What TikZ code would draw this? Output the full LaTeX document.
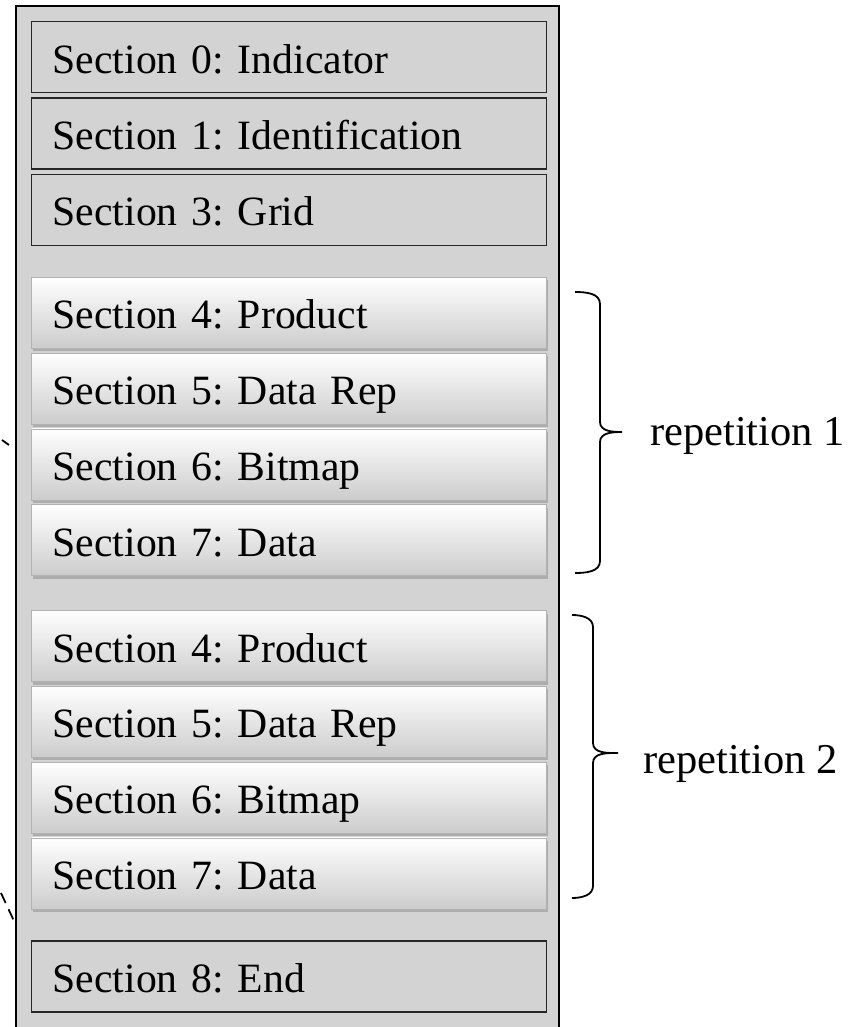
\documentclass[tikz,border=0pt]{standalone}
\usepackage{fontspec}
\setmainfont{Liberation Serif}
\frenchspacing
\usetikzlibrary{positioning, shadows}
\definecolor{panelgray}{RGB}{211,211,211}
\tikzset{basic/.style={anchor=north west,minimum height=71pt,text width=473pt,inner xsep=21pt,inner ysep=0pt,align=left,text height=32pt,text depth=0pt,font=\fontsize{41.7}{50}\selectfont}}
\tikzset{flat/.style={basic,draw=black!85,line width=1.3pt,fill=panelgray}}
\tikzset{raised/.style={basic,draw=black!30,line width=0.8pt,top color=white,bottom color=black!20,drop shadow={shadow xshift=1pt,shadow yshift=-3pt,opacity=0.45}}}
\tikzset{bracket/.style={draw,line width=1.8pt}}
\tikzset{replabel/.style={anchor=base west,inner sep=0pt,font=\fontsize{42.5}{50}\selectfont}}

\begin{document}
\begin{tikzpicture}[x=1pt,y=1pt]
\useasboundingbox (0,0) rectangle (856,-1027);

% Define message panel
\fill[panelgray] (16,-6) rectangle (559,-1027);
\draw[line width=2.5pt] (16,-1027) -- (16,-6) -- (559,-6) -- (559,-1027);

% Define fixed sections
\node[flat] at (31,-21) (s0) {Section 0: Indicator};
\node[flat,below=4pt of s0] (s1) {Section 1: Identification};
\node[flat,below=4pt of s1] (s3) {Section 3: Grid};

% Define first repetition
\node[raised,below=31pt of s3] (s4a) {Section 4: Product};
\node[raised,below=4pt of s4a] (s5a) {Section 5: Data Rep};
\node[raised,below=4pt of s5a] (s6a) {Section 6: Bitmap};
\node[raised,below=4pt of s6a] (s7a) {Section 7: Data};

% Define second repetition
\node[raised,below=34pt of s7a] (s4b) {Section 4: Product};
\node[raised,below=4pt of s4b] (s5b) {Section 5: Data Rep};
\node[raised,below=4pt of s5b] (s6b) {Section 6: Bitmap};
\node[raised,below=4pt of s6b] (s7b) {Section 7: Data};

% End section
\node[flat,below=31pt of s7b] (s8) {Section 8: End};

% Define braces
\draw[bracket] (575,-292) to[out=0,in=90] (600,-304) -- (600,-422)
  to[out=-90,in=180] (622,-432) to[out=180,in=90] (600,-442) -- (600,-561)
  to[out=-90,in=0] (575,-573);
\draw[bracket] (572,-615) to[out=0,in=90] (593,-627) -- (593,-743)
  to[out=-90,in=180] (618,-753) to[out=180,in=90] (593,-763) -- (593,-886)
  to[out=-90,in=0] (572,-898);

% Add some text
\node[replabel] at (650,-445) (rep1) {repetition 1};
\node[replabel] at (643,-773) (rep2) {repetition 2};

% Cut-off dashes on the left
\draw[line width=1.8pt] (2,-440) -- (9,-445);
\draw[line width=1.8pt,dash pattern=on 11pt off 7pt] (1,-893) -- (14,-921);
\end{tikzpicture}
\end{document}
